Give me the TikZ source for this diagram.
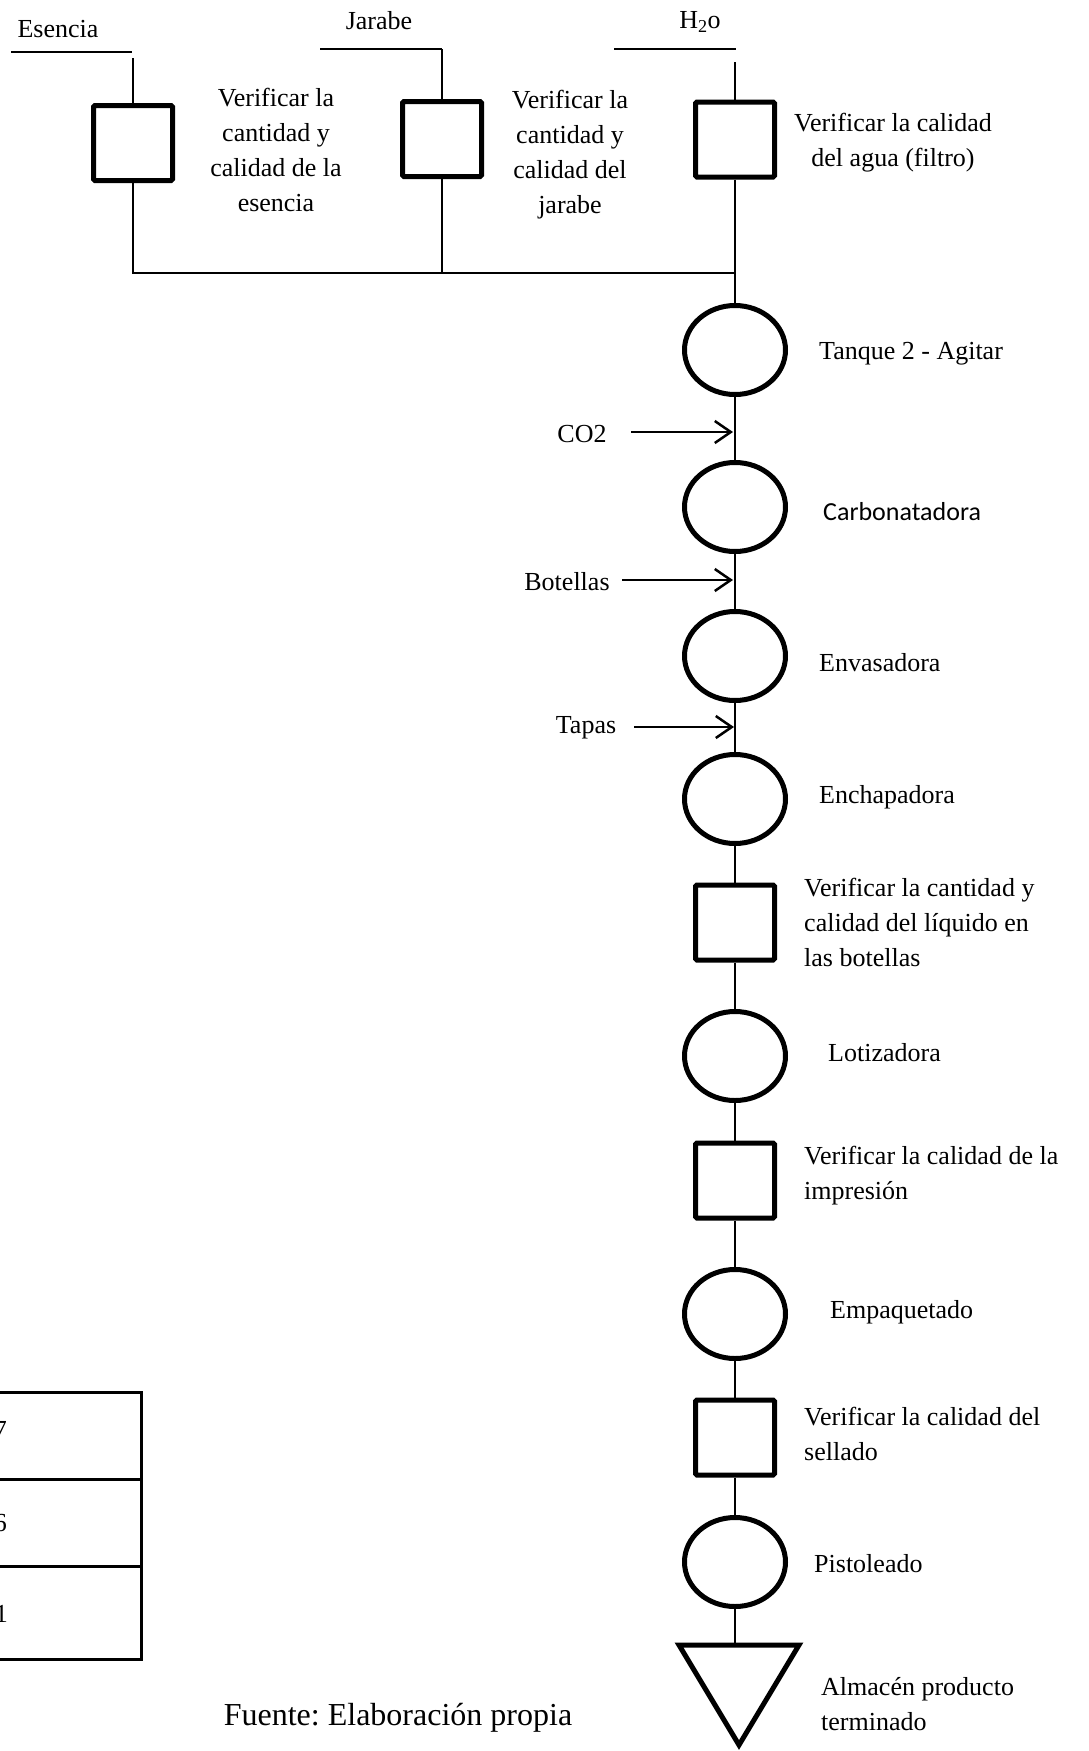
\documentclass[tikz,border=0pt]{standalone}
\usepackage{fontspec}
\setmainfont{Liberation Serif}
\newfontfamily\calibrifont{Carlito}
\usetikzlibrary{shapes.geometric,arrows.meta}
\frenchspacing

\begin{document}
\begin{tikzpicture}[x=1pt,y=-1pt,
  flow/.style={line width=2pt},
  feed/.style={line width=2.5pt,-{Straight Barb[length=16pt,width=22pt,line width=2.5pt]}},
  opnode/.style={ellipse,draw,line width=5pt,minimum width=101pt,minimum height=89pt,inner sep=0pt},
  inspnode/.style={rectangle,draw,line width=5pt,minimum width=79pt,minimum height=75pt,rounded corners=1.5pt,inner sep=0pt},
  lbl/.style={font=\fontsize{26}{35}\selectfont,inner sep=0pt},
  rlbl/.style={lbl,anchor=west,align=left},
  tbl/.style={line width=3pt}]

\useasboundingbox (0,0) rectangle (1089,1751);

% --- inputs at the top ---
\node[lbl] (esencia) at (58,29) {Esencia};
\node[lbl] (jarabe) at (379,21) {Jarabe};
\node[lbl] (agua) at (700,22) {H\textsubscript{2}o};

\coordinate (esA) at (11,52);  \coordinate (esB) at (132,52);
\coordinate (jaA) at (320,49); \coordinate (jaB) at (442,49);
\coordinate (agA) at (614,49); \coordinate (agB) at (736,49);
\draw[flow] (esA) -- (esB);
\draw[flow] (jaA) -- (jaB);
\draw[flow] (agA) -- (agB);

\coordinate (esTop) at (133,58);
\coordinate (agTop) at (735,62);

\node[inspnode] (esq) at (133,143) {};
\node[inspnode] (jsq) at (442,139) {};
\node[inspnode] (hsq) at (735,139.5) {};

\node[lbl,align=center] (esTxt) at (276,150) {Verificar la\\cantidad y\\calidad de la\\esencia};
\node[lbl,align=center] (jaTxt) at (570,155) {Verificar la\\cantidad y\\calidad del\\jarabe};
\node[lbl,align=center] (agTxt) at (893,143) {Verificar la calidad\\del agua (filtro)};

\draw[flow] (esTop) -- (esq.north);
\draw[flow] (jaB) -- (jsq.north);
\draw[flow] (agTop) -- (hsq.north);

% collecting line
\coordinate (busM) at (442,273);
\coordinate (busR) at (735,273);
\draw[flow] (esq.south) |- (busR);
\draw[flow] (jsq.south) -- (busM);

% --- main process line ---
\node[opnode] (tanque) at (735,350) {};
\node[opnode] (carb) at (735,507) {};
\node[opnode] (envas) at (735,656) {};
\node[opnode] (enchap) at (735,799) {};
\node[inspnode] (insp1) at (735,922.5) {};
\node[opnode] (lotiz) at (735,1056) {};
\node[inspnode] (insp2) at (735,1180.5) {};
\node[opnode] (empaq) at (735,1314) {};
\node[inspnode] (insp3) at (735,1437.5) {};
\node[opnode] (pistol) at (735,1562) {};

\coordinate (almTop) at (735,1645);
\coordinate (almL) at (679,1645);
\coordinate (almR) at (799,1645);
\coordinate (almP) at (739,1745);
\draw[line width=5pt,line join=miter] (almL) -- (almR) -- (almP) -- cycle;

\draw[flow] (hsq.south) -- (tanque.north);
\draw[flow] (tanque.south) -- (carb.north);
\draw[flow] (carb.south) -- (envas.north);
\draw[flow] (envas.south) -- (enchap.north);
\draw[flow] (enchap.south) -- (insp1.north);
\draw[flow] (insp1.south) -- (lotiz.north);
\draw[flow] (lotiz.south) -- (insp2.north);
\draw[flow] (insp2.south) -- (empaq.north);
\draw[flow] (empaq.south) -- (insp3.north);
\draw[flow] (insp3.south) -- (pistol.north);
\draw[flow] (pistol.south) -- (almTop);

% step labels
\node[rlbl] (lTanque) at (819,354) {Tanque 2 - Agitar};
\node[rlbl,font=\calibrifont\fontsize{26}{32}\selectfont] (lCarb) at (823,512) {Carbonatadora};
\node[rlbl] (lEnvas) at (819,663) {Envasadora};
\node[rlbl] (lEnchap) at (819,797) {Enchapadora};
\node[rlbl] (lInsp1) at (804,922) {Verificar la cantidad y\\calidad del líquido en\\las botellas};
\node[rlbl] (lLotiz) at (828,1053) {Lotizadora};
\node[rlbl] (lInsp2) at (804,1176) {Verificar la calidad de la\\impresión};
\node[rlbl] (lEmpaq) at (830,1312) {Empaquetado};
\node[rlbl] (lInsp3) at (804,1434) {Verificar la calidad del\\sellado};
\node[rlbl] (lPistol) at (814,1564) {Pistoleado};
\node[rlbl] (lAlm) at (821,1704) {Almacén producto\\terminado};

% material feeds
\node[lbl] (co2) at (582,434) {CO2};
\node[lbl] (botellas) at (567,582) {Botellas};
\node[lbl] (tapas) at (586,728) {Tapas};
\coordinate (co2s) at (631,432);  \coordinate (co2e) at (733,432);
\coordinate (bots) at (622,580);  \coordinate (bote) at (733,580);
\coordinate (taps) at (634,727);  \coordinate (tape) at (734,727);
\draw[feed] (co2s) -- (co2e);
\draw[feed] (bots) -- (bote);
\draw[feed] (taps) -- (tape);

% table at the lower left
\draw[tbl] (-5,1392) -- (141,1392) -- (141,1659) -- (-5,1659);
\draw[tbl] (-5,1479) -- (141,1479);
\draw[tbl] (-5,1566) -- (141,1566);
\node[lbl,anchor=east] (n7) at (7,1430) {7};
\node[lbl,anchor=east] (n6) at (7,1523) {6};
\node[lbl,anchor=east] (n1) at (8,1614) {1};

\node[font=\fontsize{32}{38}\selectfont,inner sep=0pt] (fuente) at (398,1718) {Fuente: Elaboración propia};
\end{tikzpicture}
\end{document}
